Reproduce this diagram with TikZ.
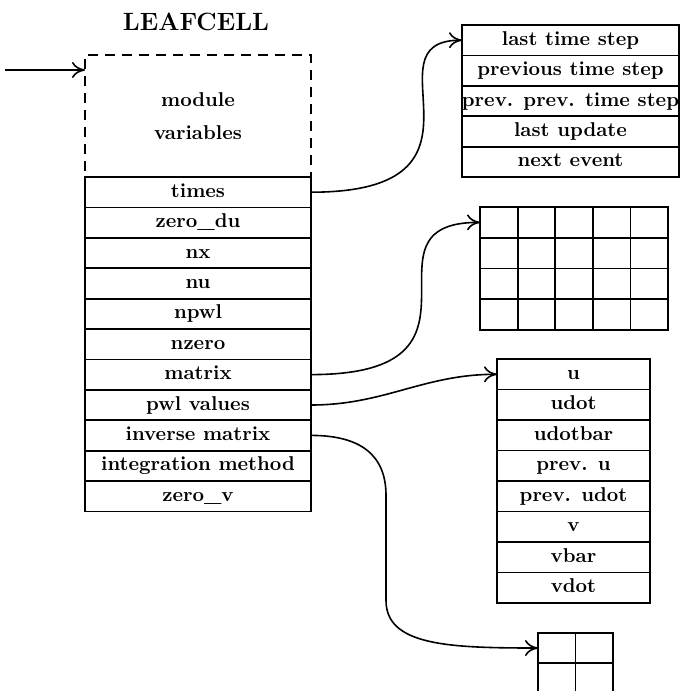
\documentclass[tikz,border=0pt]{standalone}
\usetikzlibrary{positioning,arrows.meta}
\begin{document}
\begin{tikzpicture}[x=0.5pt,y=-0.5pt,
    cell/.style={draw, line width=0.9pt, outer sep=0pt, inner sep=0pt, minimum width=113pt,
      minimum height=15.2pt, text height=7pt, text depth=2pt, font=\bfseries},
    tcell/.style={cell, minimum width=108.5pt},
    ucell/.style={cell, minimum width=76.5pt, minimum height=15.25pt},
    gcell/.style={draw, line width=0.9pt, outer sep=0pt, inner sep=0pt, minimum width=18.8pt, minimum height=15.4pt},
    scell/.style={gcell, minimum width=18.75pt, minimum height=15pt},
    arr/.style={-{To[length=6.5pt,width=8pt]}, line width=0.8pt}]
    \useasboundingbox (0,0) rectangle (680,691);
    \clip (0,0) rectangle (680,691);

    % the leaf cell record
    \node[font=\fontsize{12.5}{15}\selectfont\bfseries] (title) at (196,22) {LEAFCELL};
    \node[draw, dash pattern=on 5pt off 3.5pt, line width=0.9pt, outer sep=0pt, minimum width=113pt,
      minimum height=61pt, align=center, font=\bfseries] (modvars) at (198,116) {module\\[4.5pt]variables};
    \node[cell, below=0pt of modvars] (times) {times};
    \node[cell, below=0pt of times] (zerodu) {zero\_du};
    \node[cell, below=0pt of zerodu] (nx) {nx};
    \node[cell, below=0pt of nx] (nu) {nu};
    \node[cell, below=0pt of nu] (npwl) {npwl};
    \node[cell, below=0pt of npwl] (nzero) {nzero};
    \node[cell, below=0pt of nzero] (mtx) {matrix};
    \node[cell, below=0pt of mtx] (pwl) {pwl values};
    \node[cell, below=0pt of pwl] (inv) {inverse matrix};
    \node[cell, below=0pt of inv] (intmeth) {integration method};
    \node[cell, below=0pt of intmeth] (zerov) {zero\_v};

    % times record
    \node[tcell] (t1) at (570.5,40.2) {last time step};
    \node[tcell, below=0pt of t1] (t2) {previous time step};
    \node[tcell, below=0pt of t2] (t3) {prev. prev. time step};
    \node[tcell, below=0pt of t3] (t4) {last update};
    \node[tcell, below=0pt of t4] (t5) {next event};

    % pwl values record
    \node[ucell] (u1) at (573.5,374.3) {u};
    \node[ucell, below=0pt of u1] (u2) {udot};
    \node[ucell, below=0pt of u2] (u3) {udotbar};
    \node[ucell, below=0pt of u3] (u4) {prev. u};
    \node[ucell, below=0pt of u4] (u5) {prev. udot};
    \node[ucell, below=0pt of u5] (u6) {v};
    \node[ucell, below=0pt of u6] (u7) {vbar};
    \node[ucell, below=0pt of u7] (u8) {vdot};

    % matrices
    \foreach \r in {1,...,4}
      \foreach \c in {1,...,5}
        \node[gcell] (m\r\c) at ({480+37.6*(\c-0.5)},{207+30.75*(\r-0.5)}) {};
    \foreach \r in {1,2}
      \foreach \c in {1,2}
        \node[scell] (s\r\c) at ({538+37.5*(\c-0.5)},{633+30*(\r-0.5)}) {};

    % pointers
    \coordinate (src) at (5,70);
    \draw[arr] (src) -- (src -| modvars.west);
    \draw[arr] (times.east) .. controls +(200,0) and +(-100,0) .. (t1.west);
    \draw[arr] (mtx.east) .. controls +(200,0) and +(-130,0) .. (m11.west);
    \draw[arr] (pwl.east) to[out=0,in=180] (u1.west);
    \draw[arr] (inv.east) .. controls +(50,0) and +(0,-40) .. ++(75,60) -- ++(0,105)
      .. controls +(0,45) and +(-90,0) .. (s11.west);
\end{tikzpicture}
\end{document}
